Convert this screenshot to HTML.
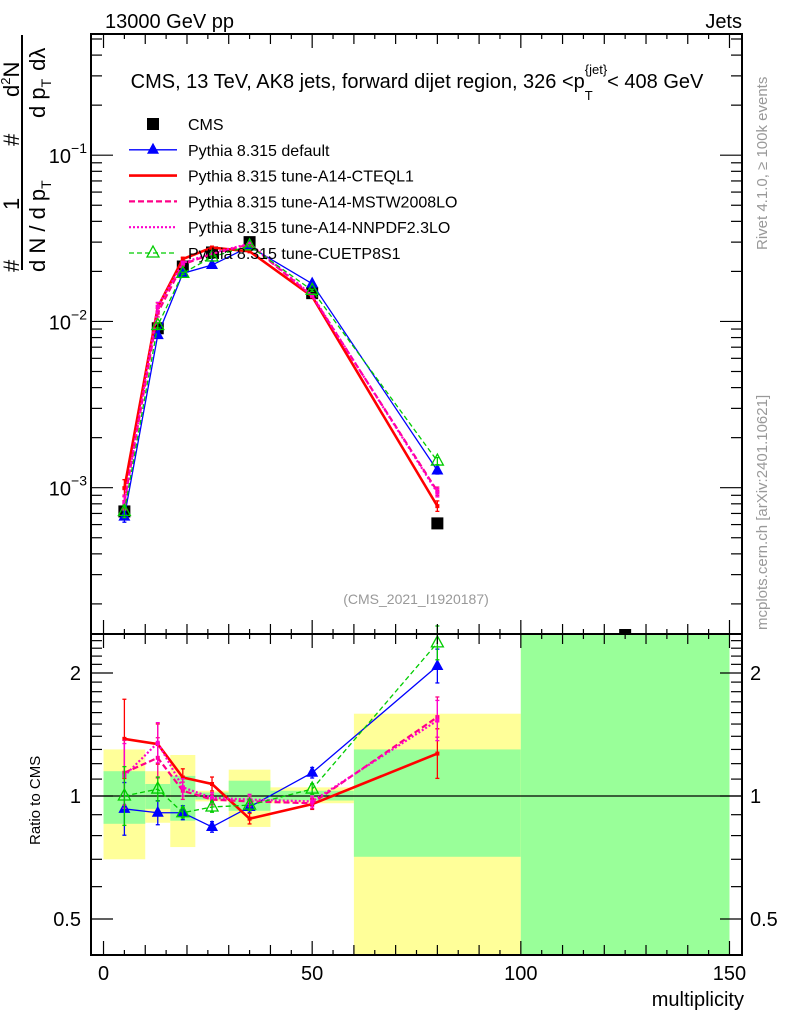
<!DOCTYPE html>
<html><head><meta charset="utf-8"><style>
body{margin:0;background:#fff;width:786px;height:1024px;overflow:hidden}
svg{font-family:"Liberation Sans",sans-serif}
</style></head><body>
<svg id="c" width="786" height="1024" viewBox="0 0 786 1024" xmlns="http://www.w3.org/2000/svg">
<text x="105" y="28" font-size="20">13000 GeV pp</text>
<text x="742" y="28" font-size="20" text-anchor="end">Jets</text>
<text x="417" y="88" font-size="20" text-anchor="middle">CMS, 13 TeV, AK8 jets, forward dijet region, 326 &lt;p<tspan font-size="13" dy="12">T</tspan><tspan font-size="13" dx="-8" dy="-26">{jet}</tspan><tspan dy="14">&lt; 408 GeV</tspan></text>
<text x="416" y="604" font-size="14" fill="#999" text-anchor="middle">(CMS_2021_I1920187)</text>
<text transform="translate(767,250) rotate(-90)" font-size="15" fill="#999">Rivet 4.1.0, ≥ 100k events</text>
<text transform="translate(767,630) rotate(-90)" font-size="15" fill="#999">mcplots.cern.ch [arXiv:2401.10621]</text>
<g font-size="22">
<text transform="translate(19,272) rotate(-90)">#</text>
<text transform="translate(19,210) rotate(-90)">1</text>
<text transform="translate(19,146) rotate(-90)">#</text>
<text transform="translate(19,97) rotate(-90)">d<tspan font-size="13" dy="-9">2</tspan><tspan dy="9">N</tspan></text>
<line x1="22" y1="35" x2="22" y2="270" stroke="#000" stroke-width="2"/>
<text transform="translate(45,272) rotate(-90)">d N / d p<tspan font-size="14" dy="6">T</tspan></text>
<text transform="translate(45,118) rotate(-90)">d p<tspan font-size="14" dy="6">T</tspan><tspan dx="8" dy="-6">dλ</tspan></text>
</g>
<text transform="translate(40,845) rotate(-90)" font-size="15">Ratio to CMS</text>
<text x="744" y="1006" font-size="20" text-anchor="end">multiplicity</text>
<g id="bands"></g><g id="grid"></g><g id="series"></g><g id="axes"></g><g id="legend"></g>
</svg>
<script>
const NS='http://www.w3.org/2000/svg';
const binEdges=[0,10,16,22,30,40,60,100,150];
const xVals=[5,13,19,26,35,50,80,125];
const cmsVals=[7.2e-4,9.1e-3,0.0214,0.026,0.030,0.0148,6.1e-4,1.3e-4];
const yellowHi=[1.30,1.15,1.26,1.03,1.16,1.05,1.59,3.0];
const yellowLo=[0.70,0.86,0.75,0.97,0.84,0.96,0.40,0.3];
const greenHi=[1.15,1.07,1.12,1.02,1.09,1.03,1.30,3.0];
const greenLo=[0.855,0.93,0.87,0.98,0.92,0.975,0.71,0.3];
const ratioDefault=[0.93,0.91,0.91,0.84,0.94,1.14,2.08];
const ratioCTEQ=[1.38,1.34,1.11,1.07,0.88,0.955,1.27];
const ratioMSTW=[1.14,1.24,1.03,0.98,0.97,0.96,1.56];
const ratioNNPDF=[1.12,1.35,1.05,0.99,0.98,0.97,1.53];
const ratioCUETP=[1.0,1.04,0.91,0.94,0.95,1.04,2.37];
const errDefault=[0.16,0.07,0.04,0.03,0.03,0.03,0.10];
const errCTEQ=[0.25,0.12,0.05,0.04,0.03,0.03,0.15];
const errMSTW=[0.20,0.12,0.05,0.03,0.03,0.03,0.12];
const errNNPDF=[0.20,0.12,0.05,0.03,0.03,0.03,0.12];
const errCUETP=[0.18,0.07,0.03,0.03,0.03,0.03,0.10];
const ratioTicks=[0.5,1,2];
const xTicks=[0,50,100,150];

const L=91,R=742,T=34,MB=634,RB=955;
const xs=v=>L+(v+3)*(R-L)/156;
const ys=v=>T+(-0.271-Math.log10(v))*(MB-T)/(3.88-0.271);
const rs=v=>796-Math.log2(v)*123;
function el(tag,attrs,parent){const e=document.createElementNS(NS,tag);for(const k in attrs)e.setAttribute(k,attrs[k]);parent.appendChild(e);return e;}
const G=id=>document.getElementById(id);
for(let i=0;i<binEdges.length-1;i++){
  const x1=xs(binEdges[i]),x2=xs(binEdges[i+1]);
  const clip=v=>Math.max(MB,Math.min(RB,rs(v)));
  const y=el('rect',{x:x1,y:clip(yellowHi[i]),width:x2-x1,height:clip(yellowLo[i])-clip(yellowHi[i]),fill:'#ffff99'},G('bands'));
  
  
  const g=el('rect',{x:x1,y:clip(greenHi[i]),width:x2-x1,height:clip(greenLo[i])-clip(greenHi[i]),fill:'#99ff99'},G('bands'));
  
  
}
const one=el('line',{x1:L,x2:R,y1:rs(1),y2:rs(1),stroke:'#000','stroke-width':1.2},G('grid'));



const series=[
 {name:'default',r:ratioDefault,e:errDefault,c:'#0000ff',w:1.3,d:'',m:'tri'},
 {name:'cteql1',r:ratioCTEQ,e:errCTEQ,c:'#ff0000',w:2.6,d:'',m:'dot'},
 {name:'mstw2008lo',r:ratioMSTW,e:errMSTW,c:'#ff0088',w:2.2,d:'6,3',m:'dot'},
 {name:'nnpdf23lo',r:ratioNNPDF,e:errNNPDF,c:'#ff00cc',w:2.2,d:'2,2',m:'dot'},
 {name:'cuetp8s1',r:ratioCUETP,e:errCUETP,c:'#00cc00',w:1.3,d:'5,3',m:'otri'}];
function marker(m,x,y,c,p){
  if(m==='tri')return el('path',{d:`M${x},${y-7}L${x+6},${y+4}L${x-6},${y+4}Z`,fill:c},p);
  if(m==='otri')return el('path',{d:`M${x},${y-7}L${x+6},${y+4}L${x-6},${y+4}Z`,fill:'none',stroke:c,'stroke-width':1.3},p);
  return el('rect',{x:x-2,y:y-2,width:4,height:4,fill:c},p);
}
function drawSeries(s,panel){
  const grp=el('g',{},G('series'));
  
  
  const vals=s.r.map((r,i)=>panel==='main'?cmsVals[i]*r:r);
  const Y=panel==='main'?ys:rs;
  const pts=vals.map((v,i)=>xs(xVals[i])+','+Y(v)).join(' ');
  el('polyline',{points:pts,fill:'none',stroke:s.c,'stroke-width':s.w,'stroke-dasharray':s.d},grp);
  vals.forEach((v,i)=>{
    const x=xs(xVals[i]);
    const e=panel==='main'?s.e[i]*0.5:s.e[i];
    const y1=Y(v*(1+e)),y2=Y(v/(1+e));
    el('line',{x1:x,x2:x,y1:y1,y2:y2,stroke:s.c,'stroke-width':1.3},grp);
    el('line',{x1:x-2,x2:x+2,y1:y1,y2:y1,stroke:s.c,'stroke-width':1.3},grp);
    el('line',{x1:x-2,x2:x+2,y1:y2,y2:y2,stroke:s.c,'stroke-width':1.3},grp);
    const mk=marker(s.m,x,Y(v),s.c,grp);
    
    
  });
}
const cg=el('g',{},G('series'));


cmsVals.forEach((v,i)=>{
  const y=Math.max(ys(v),0);
  if(y>MB+2)return;
  const s=el('rect',{x:xs(xVals[i])-6,y:Math.max(y-6,0),width:12,height:Math.min(12,MB-(y-6)),fill:'#000'},cg);
  
  
});
series.forEach(s=>{drawSeries(s,'main');});
series.forEach(s=>{drawSeries(s,'ratio');});

const ax=G('axes');
el('rect',{x:L,y:T,width:R-L,height:RB-T,fill:'none',stroke:'#000','stroke-width':2},ax);
el('line',{x1:L,x2:R,y1:MB,y2:MB,stroke:'#000','stroke-width':2},ax);
for(let v=0;v<=150;v+=5){
  const x=xs(v),len=v%50===0?14:(v%10===0?10:5);
  [[T,1],[MB,-1],[MB,1],[RB,-1]].forEach(([y0,dir])=>el('line',{x1:x,x2:x,y1:y0,y2:y0+dir*len,stroke:'#000','stroke-width':1.2},ax));
}
xTicks.forEach(v=>{const t=el('text',{x:xs(v),y:980,'font-size':20,'text-anchor':'middle'},ax);t.textContent=v;
  
  });
for(let d=-4;d<=0;d++){for(let k=1;k<10;k++){const v=k*Math.pow(10,d);const y=ys(v);if(y<T||y>MB)continue;
  const len=k===1?22:11;
  el('line',{x1:L,x2:L+len,y1:y,y2:y,stroke:'#000','stroke-width':1.2},ax);
  el('line',{x1:R,x2:R-len,y1:y,y2:y,stroke:'#000','stroke-width':1.2},ax);
  if(k===1){const t=el('text',{x:L-4,y:y+8,'font-size':20,'text-anchor':'end'},ax);t.innerHTML='10<tspan font-size="14" dy="-10">−'+(-d)+'</tspan>';
    
    }
}}
for(let v=0.4;v<=2.5;v+=0.1){const y=rs(v);if(y<MB||y>RB)continue;
  const major=ratioTicks.some(t=>Math.abs(t-v)<1e-6);const len=major?22:11;
  el('line',{x1:L,x2:L+len,y1:y,y2:y,stroke:'#000','stroke-width':1.2},ax);
  el('line',{x1:R,x2:R-len,y1:y,y2:y,stroke:'#000','stroke-width':1.2},ax);}
ratioTicks.forEach(v=>{const y=rs(v)+7;
  const a=el('text',{x:L-10,y:y,'font-size':20,'text-anchor':'end'},ax);a.textContent=v;
  
  
  const b=el('text',{x:R+8,y:y,'font-size':20},ax);b.textContent=v;
  
  });

const lg=G('legend');
const labels=['CMS','Pythia 8.315 default','Pythia 8.315 tune-A14-CTEQL1','Pythia 8.315 tune-A14-MSTW2008LO','Pythia 8.315 tune-A14-NNPDF2.3LO','Pythia 8.315 tune-CUETP8S1'];
labels.forEach((lab,i)=>{
  const y=124+i*25.8;
  const g=el('g',{},lg);
  
  
  if(i===0)el('rect',{x:147,y:y-6,width:12,height:12,fill:'#000'},g);
  else{const s=series[i-1];el('line',{x1:129,x2:177,y1:y,y2:y,stroke:s.c,'stroke-width':s.w,'stroke-dasharray':s.d},g);
    if(s.m!=='dot')marker(s.m,153,y,s.c,g);}
  const t=el('text',{x:188,y:y+6,'font-size':16},g);t.textContent=lab;
});
</script>
</body></html>
